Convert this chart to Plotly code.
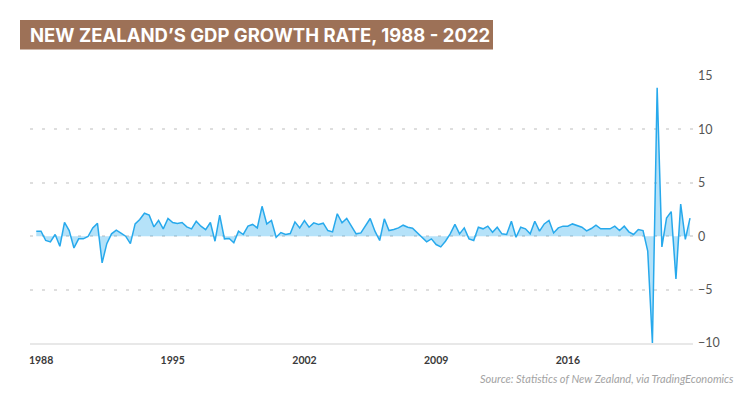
import plotly.graph_objects as go
import pandas as pd

# ---------------- data ----------------
first_quarter_end = "1987-09-30"
gdp_growth = [
    0.47, 0.47, -0.4, -0.53, 0.16, -0.94, 1.3, 0.53, -1.1, -0.25,
    -0.25, -0.03, 0.78, 1.2, -2.5, -0.7, 0.22, 0.56, 0.28, 0.0,
    -0.7, 1.15, 1.56, 2.15, 1.97, 0.87, 1.47, 0.69, 1.66, 1.28,
    1.19, 1.28, 0.87, 0.69, 1.4, 0.94, 0.62, 1.28, -0.47, 1.97,
    -0.25, -0.22, -0.62, 0.47, 0.16, 0.94, 1.1, 0.78, 2.8, 1.15,
    1.47, -0.1, 0.34, 0.16, 0.25, 1.34, 0.78, 1.47, 0.84, 1.25,
    1.1, 1.22, 0.53, 0.4, 2.1, 1.25, 1.66, 0.94, 0.22, 0.31,
    0.94, 1.66, 0.47, -0.4, 1.63, 0.53, 0.62, 0.78, 1.03, 0.84,
    0.75, 0.31, -0.16, -0.53, -0.25, -0.78, -1.0, -0.47, 0.22, 1.1,
    0.22, 0.78, -0.25, -0.4, 0.84, 0.69, 0.94, 0.37, 0.84, 0.22,
    0.16, 1.4, -0.1, 0.84, 0.69, 0.22, 1.4, 0.47, 1.15, 1.47,
    0.31, 0.78, 0.94, 0.94, 1.15, 1.0, 0.84, 0.5, 0.72, 1.03,
    0.69, 0.69, 0.69, 0.94, 0.53, 0.94, 0.41, 0.16, 0.62, 0.53,
    -1.4, -10.0, 13.9, -1.0, 1.7, 2.3, -4.0, 3.0, -0.3, 1.7,
]
quarters = pd.date_range(first_quarter_end, periods=len(gdp_growth), freq="QE")

year_ticks = ["1988", "1995", "2002", "2009", "2016"]
y_ticks = [-10, -5, 0, 5, 10, 15]
x_range = ["1987-05-31", "2022-08-27"]
y_range = [-10, 15]

title_text = "NEW ZEALAND\u2019S GDP GROWTH RATE, 1988 - 2022"
source_text = "Source: Statistics of New Zealand, via TradingEconomics"

# ---------------- layout constants ----------------
W, H = 750, 401
ML, MR, MT, MB = 30, 57, 76, 58
PW = W - ML - MR
PH = H - MT - MB
PB = H - MB  # pixel y of plot bottom


def px_x(px):
    return (px - ML) / PW


def px_y(py):
    return (PB - py) / PH


LINE = "#27a9ec"
FILL = "rgba(39,169,236,0.34)"

fig = go.Figure()
fig.add_trace(go.Scatter(
    x=quarters, y=gdp_growth, mode="lines",
    line=dict(color=LINE, width=1.5),
    fill="tozeroy", fillcolor=FILL,
    hoverinfo="skip", showlegend=False,
))

fig.update_layout(
    width=W, height=H,
    margin=dict(l=ML, r=MR, t=MT, b=MB, pad=0),
    paper_bgcolor="white", plot_bgcolor="white",
    xaxis=dict(
        type="date", range=x_range,
        tickvals=[f"{y}-01-01" for y in year_ticks], ticktext=year_ticks,
        showgrid=False, zeroline=False,
        showline=True, linecolor="#e8e8e8", linewidth=2,
        ticks="", ticklabelstandoff=6,
        tickfont=dict(family="Lato", size=10.5, color="#3a3a3a", weight=700),
    ),
    yaxis=dict(
        side="right", range=y_range, tickvals=y_ticks,
        showgrid=True, gridcolor="#dedede", gridwidth=2, griddash="3px,9px",
        zeroline=False, showline=False, ticks="",
        ticklabelstandoff=4,
        tickfont=dict(family="Lato", size=12.5, color="#555555"),
    ),
    shapes=[dict(
        type="rect", xref="paper", yref="paper",
        x0=px_x(20), x1=px_x(493), y0=px_y(49.5), y1=px_y(20),
        fillcolor="#9d7157", line=dict(width=0), layer="above",
    )],
    annotations=[
        dict(
            text=title_text, xref="paper", yref="paper",
            x=px_x(27.5), y=px_y(35.5), xanchor="left", yanchor="middle",
            showarrow=False,
            font=dict(family="Inter", size=18.5, color="white", weight=700),
        ),
        dict(
            text=f"<i>{source_text}</i>", xref="paper", yref="paper",
            x=px_x(736), y=px_y(379), xanchor="right", yanchor="middle",
            showarrow=False,
            font=dict(family="Lato", size=11, color="#a3a3a3"),
        ),
    ],
)

fig.write_html("out.html")
